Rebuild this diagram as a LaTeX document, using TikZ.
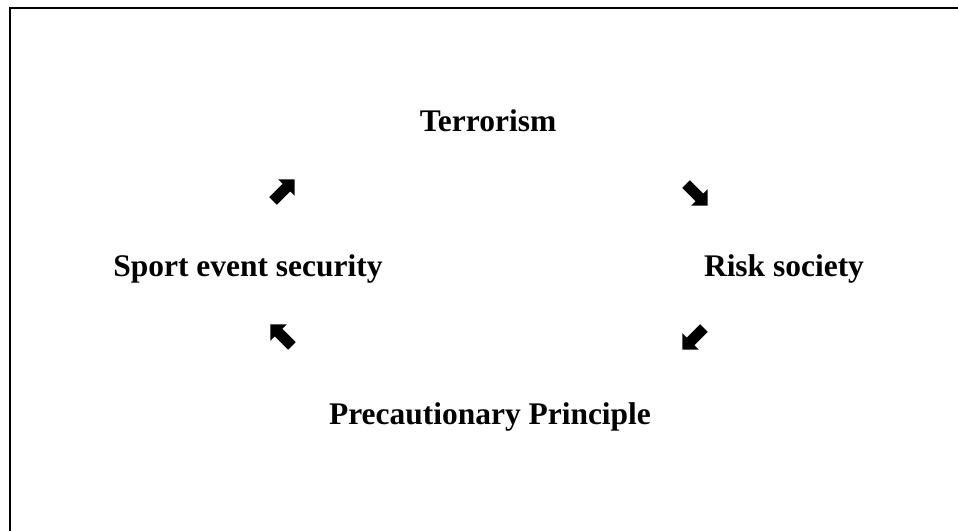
\documentclass[tikz,border=0pt]{standalone}
\usepackage{fontspec}
\setmainfont{Liberation Serif}
\usetikzlibrary{shapes.arrows}
\begin{document}
\begin{tikzpicture}[x=0.75pt,y=-0.75pt,
  lbl/.style={anchor=base,inner sep=0pt,font=\fontsize{23.6}{28}\selectfont\bfseries},
  blk/.style={single arrow,fill=black,draw=none,inner sep=3.8pt,
    single arrow head extend=4.8pt,minimum height=23pt,single arrow tip angle=90}]
\useasboundingbox (0,0) rectangle (958,531);
\draw[line width=1.9pt] (10,531) -- (10,8) -- (958,8);
\node[lbl] (ter) at (488,132) {Terrorism};
\node[lbl] (ses) at (248,277) {Sport event security};
\node[lbl] (ris) at (784,277) {Risk society};
\node[lbl] (pre) at (490,425) {Precautionary Principle};
\node[blk,rotate=45] (a1) at (282,192) {};
\node[blk,rotate=-45] (a2) at (695,193) {};
\node[blk,rotate=-135] (a3) at (695,337) {};
\node[blk,rotate=135] (a4) at (283,337) {};
\end{tikzpicture}
\end{document}
